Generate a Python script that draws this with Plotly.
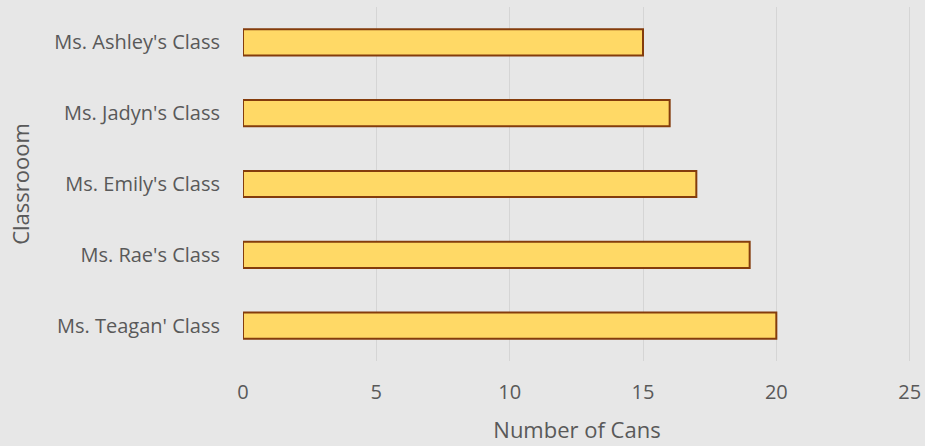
import plotly.graph_objects as go

classes = ["Ms. Teagan' Class", "Ms. Rae's Class", "Ms. Emily's Class", "Ms. Jadyn's Class", "Ms. Ashley's Class"]
cans = [20, 19, 17, 16, 15]
x_ticks = [0, 5, 10, 15, 20, 25]

fig = go.Figure(go.Bar(
    y=classes, x=cans, orientation="h",
    marker=dict(color="#FFD966", line=dict(color="#843C0C", width=2)),
    width=0.37,
))

font_family = "Open Sans"
fig.update_layout(
    width=925, height=446,
    paper_bgcolor="#E7E7E7", plot_bgcolor="#E7E7E7",
    margin=dict(l=243, r=14, t=7, b=85),
    font=dict(family=font_family, color="#595959", size=20),
    showlegend=False,
)
fig.update_xaxes(
    range=[0, 25.05], tickvals=x_ticks, ticktext=[str(v) for v in x_ticks],
    showgrid=True, gridcolor="#D5D5D5", gridwidth=1.3, zeroline=False,
    ticks="outside", ticklen=13, tickcolor="rgba(0,0,0,0)",
    title=dict(text="Number of Cans", font=dict(size=22), standoff=18),
    showline=False, automargin=False,
)
fig.update_yaxes(
    categoryorder="array", categoryarray=classes,
    showgrid=False, zeroline=False, showline=False,
    ticks="outside", ticklen=18, tickcolor="rgba(0,0,0,0)",
    title=dict(text="Classrooom", font=dict(size=22), standoff=18),
    range=[-0.5, 4.5], automargin=False,
)

fig.write_html("out.html", config={"displayModeBar": False},
               post_script="document.body.style.margin='0';document.body.style.overflow='hidden';")
